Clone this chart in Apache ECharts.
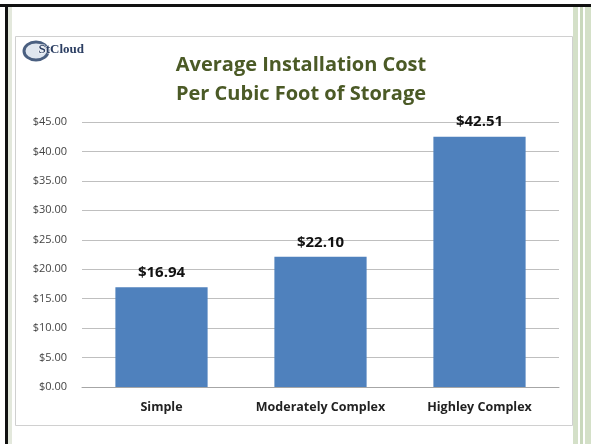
<!DOCTYPE html>
<html>
<head>
<meta charset="utf-8" />
<script src="https://cdn.jsdelivr.net/npm/echarts@6/dist/echarts.min.js"></script>
<style>
  * { margin: 0; padding: 0; }
  body { background: #ffffff; }
  #chart { width: 591px; height: 444px; }
</style>
</head>
<body>
<div id="chart"></div>
<script>
var categories = ['Simple', 'Moderately Complex', 'Highley Complex'];
var costs = [16.94, 22.10, 42.51];
var titleLines = ['Average Installation Cost', 'Per Cubic Foot of Storage'];

var chart = echarts.init(document.getElementById('chart'));

chart.setOption({
  animation: false,
  backgroundColor: '#ffffff',
  title: {
    text: titleLines.join('\n'),
    left: 296,
    top: 46,
    textAlign: 'center',
    textStyle: {
      color: '#4b5a26',
      fontSize: 20,
      fontWeight: 'bold',
      fontFamily: 'Open Sans',
      lineHeight: 29
    }
  },
  grid: { left: 82, right: 32, top: 122, height: 265 },
  xAxis: {
    type: 'category',
    data: categories,
    axisLine: { lineStyle: { color: '#a6a6a6' } },
    axisTick: { show: false },
    axisLabel: {
      interval: 0,
      color: '#222',
      fontSize: 12.5,
      fontWeight: 'bold',
      fontFamily: 'Open Sans',
      margin: 14
    }
  },
  yAxis: {
    type: 'value',
    min: 0,
    max: 45,
    interval: 5,
    axisLine: { show: false },
    axisTick: { show: false },
    splitLine: { lineStyle: { color: '#bfbfbf' } },
    axisLabel: {
      color: '#444',
      fontSize: 11,
      fontFamily: 'Open Sans',
      margin: 15,
      formatter: function (v) { return '$' + v.toFixed(2); }
    }
  },
  series: [{
    type: 'bar',
    data: costs,
    barWidth: '58%',
    itemStyle: { color: '#4f81bd' },
    label: {
      show: true,
      position: 'top',
      distance: 7,
      color: '#111',
      fontSize: 15,
      fontWeight: 'bold',
      fontFamily: 'Open Sans',
      formatter: function (p) { return '$' + p.value.toFixed(2); }
    }
  }],
  graphic: [
    // outer black frame
    { type: 'rect', shape: { x: 0, y: 4, width: 591, height: 3 }, style: { fill: '#111' }, silent: true },
    { type: 'rect', shape: { x: 5, y: 4, width: 3, height: 440 }, style: { fill: '#111' }, silent: true },
    { type: 'rect', shape: { x: 8, y: 7, width: 4, height: 437 }, style: { fill: '#e3e8dc' }, silent: true },
    // inner panel border
    { type: 'rect', shape: { x: 15.5, y: 36.5, width: 557, height: 389 }, style: { fill: 'none', stroke: '#d0d0d0', lineWidth: 1 }, silent: true },
    // right green stripes
    { type: 'rect', shape: { x: 573, y: 7, width: 18, height: 437 }, style: { fill: '#ffffff' }, silent: true },
    { type: 'rect', shape: { x: 573, y: 7, width: 5, height: 437 }, style: { fill: '#d4e0c8' }, silent: true },
    { type: 'rect', shape: { x: 580, y: 7, width: 3, height: 437 }, style: { fill: '#c9d8bc' }, silent: true },
    { type: 'rect', shape: { x: 585, y: 7, width: 6, height: 437 }, style: { fill: '#d4e0c8' }, silent: true },
    // logo
    { type: 'ellipse', shape: { cx: 36, cy: 51, rx: 12, ry: 9 }, style: { fill: '#dfe6ef', stroke: '#4a5f80', lineWidth: 3 }, silent: true },
    { type: 'text', left: 38, top: 43, style: { text: 'StCloud', fill: '#2c3f63', font: 'bold 13px "Liberation Serif"', stroke: '#ffffff', lineWidth: 1 }, silent: true }
  ]
});
</script>
</body>
</html>
